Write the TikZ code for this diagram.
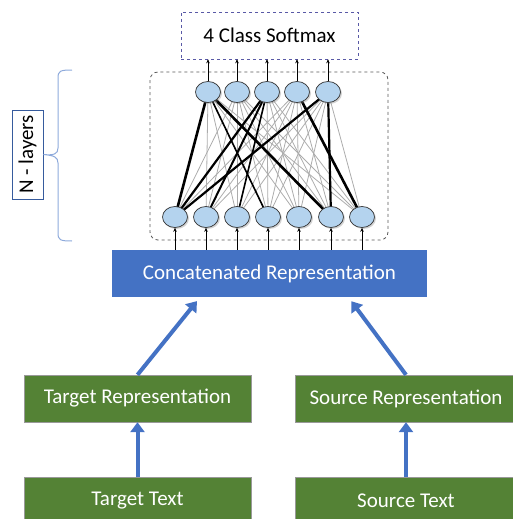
\documentclass[tikz,border=0pt]{standalone}
\usepackage{fontspec}
\setmainfont{Carlito}
\usetikzlibrary{arrows.meta,shapes.geometric,shadows,calc}

\definecolor{cellblue}{HTML}{B4D3EE}
\definecolor{concatblue}{HTML}{4472C4}
\definecolor{reprgreen}{HTML}{548235}
\definecolor{bracecol}{HTML}{8EAADB}

\tikzset{
  neuron/.style={ellipse, draw=black!80, line width=0.7pt, fill=cellblue,
    minimum width=25pt, minimum height=21pt, inner sep=0pt,
    drop shadow={opacity=0.35, shadow xshift=1.5pt, shadow yshift=-1.5pt}},
  greenbox/.style={fill=reprgreen, draw=black!40, text=white,
    minimum height=47pt, inner sep=0pt},
  blueup/.style={concatblue, line width=4pt, -{Triangle[length=10pt,width=14pt]}},
  smallup/.style={black, line width=0.6pt, -{Stealth[length=4pt,width=3.5pt]}}
}

\begin{document}
\begin{tikzpicture}[x=1pt,y=-1pt,font=\fontsize{21}{24}\selectfont]
  \useasboundingbox (0,0) rectangle (513,519);

  \node[draw=gray!70!blue, dashed, line width=0.5pt, minimum width=177pt,
    minimum height=47pt] (sm) at (269.5,35.5) {4 Class Softmax};
  \draw[dashed, rounded corners=8pt, black!65, line width=0.8pt] (150,72) rectangle (388,240);

  % gray connections first, then neurons on top
  \foreach \i/\x in {1/208,2/237,3/267,4/297,5/328}
      \coordinate (tc\i) at (\x,92);
  \foreach \j/\x in {1/175,2/206,3/237,4/268,5/299,6/331,7/362}
      \coordinate (bc\j) at (\x,217);
  \foreach \i in {1,...,5} {
      \foreach \j in {1,...,7} {
          \draw[gray!65, line width=0.8pt] (tc\i) -- (bc\j);
      }
  }

  \foreach \i/\j/\w in {1/1/2.6,1/4/1.6,1/6/2.6,3/1/2.2,3/2/2,3/3/1.6,5/1/2.2,4/7/2.6,5/6/2.2}
      \draw[line width=\w pt] (tc\i) -- (bc\j);

  \foreach \i in {1,...,5} {
      \node[neuron] (t\i) at (tc\i) {};
      \draw[smallup] (t\i.north) -- (t\i.north |- sm.south);
  }

  \node[fill=concatblue, text=white, minimum width=315pt, minimum height=47pt,
    inner sep=0pt] (cr) at (269.5,273.5) {Concatenated Representation};

  \foreach \j in {1,...,7} {
      \node[neuron] (b\j) at (bc\j) {};
      \draw[smallup] (b\j.south |- cr.north) -- (b\j.south);
  }

  \node[greenbox, minimum width=227pt] (tr) at (137.5,398.5) {Target Representation};
  \node[greenbox, minimum width=222pt] (sr) at (406,398.5) {Source Representation};
  \node[greenbox, minimum width=227pt] (tt) at (137.5,501) {Target Text};
  \node[greenbox, minimum width=222pt] (st) at (406,501) {Source Text};

  \draw[blueup] (tt.north) -- (tr.south);
  \draw[blueup] (st.north) -- (sr.south);
  \draw[blueup, shorten >=5pt] (tr.north) -- ($(cr.south)!0.44!(cr.south west)$);
  \draw[blueup, shorten >=5pt] (sr.north) -- ($(cr.south)!0.5!(cr.south east)$);

  \node[draw=concatblue!80!black, line width=0.7pt, rotate=90, minimum width=89pt,
    minimum height=31pt, inner sep=0pt] (nl) at (27.5,154.5) {N - layers};
  \draw[bracecol, line width=1pt] (72,70) .. controls (60,70) and (58,71) .. (58,78)
    -- (58,148) .. controls (58,154) and (54,155.5) .. (nl.south)
    .. controls (54,155.5) and (58,157) .. (58,163)
    -- (58,233) .. controls (58,240) and (60,241) .. (72,241);
\end{tikzpicture}
\end{document}
